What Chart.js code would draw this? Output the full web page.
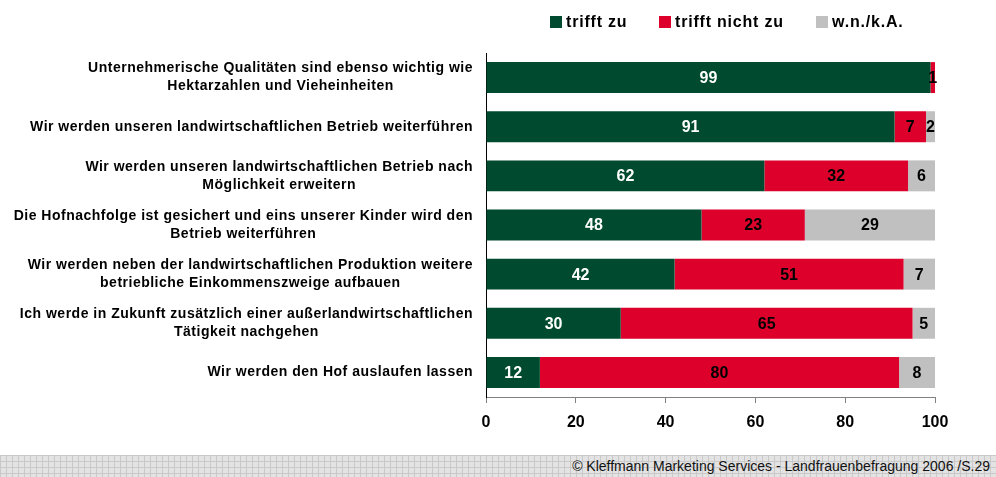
<!DOCTYPE html>
<html lang="de">
<head>
<meta charset="UTF-8">
<title>Landfrauenbefragung 2006</title>
<style>
    body {
        margin: 0;
        background: #fff;
        font-family: 'Liberation Sans', Arial, sans-serif;
    }
    .wrap {
        position: relative;
        width: 996px;
        height: 477px;
        overflow: hidden;
    }
    #chart {
        position: absolute;
        left: 0;
        top: 0;
    }
    .legend {
        position: absolute;
        top: 13px;
        font-weight: bold;
        font-size: 16px;
        letter-spacing: 0.8px;
        color: #000;
        white-space: nowrap;
    }
    .legend span.box {
        display: inline-block;
        width: 12px;
        height: 12px;
        margin-right: 4px;
        vertical-align: -1px;
    }
    .footer {
        position: absolute;
        left: 0;
        top: 455px;
        width: 996px;
        height: 22px;
        background-color: #e3e3e3;
        background-image: linear-gradient(90deg, #c9c9c9 1px, transparent 1px),
                          linear-gradient(#c9c9c9 1px, transparent 1px);
        background-size: 6px 6px;
    }
    .footer p {
        position: absolute;
        right: 6px;
        top: 3px;
        margin: 0;
        font-family: 'Liberation Sans Narrow', 'Arial Narrow', sans-serif;
        font-size: 14px;
        color: #111;
    }
</style>
</head>
<body>
<div class="wrap">
    <canvas id="chart" width="996" height="455"></canvas>
    <div class="legend" style="left:550px"><span class="box" style="background:#004b2f"></span>trifft zu</div>
    <div class="legend" style="left:659px"><span class="box" style="background:#dc002b"></span>trifft nicht zu</div>
    <div class="legend" style="left:816px"><span class="box" style="background:#c0c0c0"></span>w.n./k.A.</div>
    <div class="footer"><p>© Kleffmann Marketing Services - Landfrauenbefragung 2006 /S.29</p></div>
</div>

<script src="https://cdn.jsdelivr.net/npm/chart.js"></script>
<script>
    // Aussagen (Kategorien), mehrzeilig wie im Original
    const aussagen = [
        ['Unternehmerische Qualitäten sind ebenso wichtig wie', 'Hektarzahlen und Vieheinheiten'],
        ['Wir werden unseren landwirtschaftlichen Betrieb weiterführen'],
        ['Wir werden unseren landwirtschaftlichen Betrieb nach', 'Möglichkeit erweitern'],
        ['Die Hofnachfolge ist gesichert und eins unserer Kinder wird den', 'Betrieb weiterführen'],
        ['Wir werden neben der landwirtschaftlichen Produktion weitere', 'betriebliche Einkommenszweige aufbauen'],
        ['Ich werde in Zukunft zusätzlich einer außerlandwirtschaftlichen', 'Tätigkeit nachgehen'],
        ['Wir werden den Hof auslaufen lassen']
    ];

    // Werte in Prozent
    const trifftZu      = [99, 91, 62, 48, 42, 30, 12];
    const trifftNichtZu = [1, 7, 32, 23, 51, 65, 80];
    const wnKA          = [0, 2, 6, 29, 7, 5, 8];

    const xTicks = [0, 20, 40, 60, 80, 100];

    // Werte in die Balken schreiben
    const barLabels = {
        id: 'barLabels',
        afterDatasetsDraw(chart) {
            const ctx = chart.ctx;
            ctx.save();
            ctx.font = 'bold 16px "Liberation Sans", Arial, sans-serif';
            ctx.textAlign = 'center';
            ctx.textBaseline = 'middle';
            chart.data.datasets.forEach((ds, i) => {
                const meta = chart.getDatasetMeta(i);
                meta.data.forEach((bar, j) => {
                    const v = ds.data[j];
                    if (!v) return;
                    ctx.fillStyle = i === 0 ? '#ffffff' : '#000000';
                    ctx.fillText(String(v), (bar.x + bar.base) / 2, bar.y + 1);
                });
            });
            ctx.restore();
        }
    };

    // Kategorie-Beschriftung: Block rechtsbündig, Zeilen zentriert
    const catLabels = {
        id: 'catLabels',
        afterDraw(chart) {
            const ctx = chart.ctx;
            const yScale = chart.scales.y;
            ctx.save();
            ctx.font = 'bold 14px "Liberation Sans", Arial, sans-serif';
            ctx.letterSpacing = '0.5px';
            ctx.fillStyle = '#000';
            ctx.textAlign = 'center';
            ctx.textBaseline = 'middle';
            const right = 473;
            const lineH = 18;
            aussagen.forEach((lines, i) => {
                const yc = yScale.getPixelForValue(i);
                const w = Math.max(...lines.map(l => ctx.measureText(l).width));
                const xc = right - w / 2;
                const y0 = yc - (lines.length - 1) * lineH / 2;
                lines.forEach((l, k) => ctx.fillText(l, xc, y0 + k * lineH));
            });
            ctx.restore();
        }
    };

    new Chart(document.getElementById('chart'), {
        type: 'bar',
        data: {
            labels: aussagen.map(a => a.join(' ')),
            datasets: [
                { label: 'trifft zu', data: trifftZu, backgroundColor: '#004b2f' },
                { label: 'trifft nicht zu', data: trifftNichtZu, backgroundColor: '#dc002b' },
                { label: 'w.n./k.A.', data: wnKA, backgroundColor: '#c0c0c0' }
            ]
        },
        options: {
            indexAxis: 'y',
            responsive: false,
            animation: false,
            layout: { padding: { top: 53, right: 61, left: 0, bottom: 0 } },
            datasets: {
                bar: { barPercentage: 0.63, categoryPercentage: 1.0, borderWidth: 0 }
            },
            scales: {
                x: {
                    stacked: true,
                    min: 0,
                    max: 100,
                    afterBuildTicks(scale) {
                        scale.ticks = xTicks.map(v => ({ value: v }));
                    },
                    afterFit(scale) { scale.height = 58; },
                    grid: {
                        drawOnChartArea: false,
                        drawTicks: true,
                        tickLength: 6,
                        color: '#808080'
                    },
                    border: { display: true, color: '#808080', width: 1 },
                    ticks: {
                        color: '#000',
                        padding: 10,
                        maxRotation: 0,
                        font: { family: '"Liberation Sans", Arial, sans-serif', size: 16, weight: 'bold' }
                    }
                },
                y: {
                    stacked: true,
                    afterFit(scale) { scale.width = 486; },
                    grid: { display: false },
                    border: { display: true, color: '#000', width: 1 },
                    ticks: { display: false }
                }
            },
            plugins: {
                legend: { display: false },
                tooltip: { enabled: false }
            }
        },
        plugins: [barLabels, catLabels]
    });
</script>
</body>
</html>
